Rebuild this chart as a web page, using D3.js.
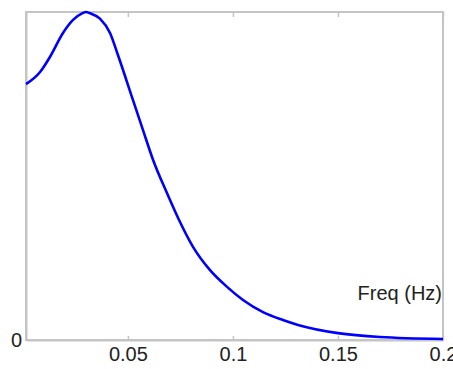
<!DOCTYPE html>
<html><head><meta charset="utf-8">
<script src="https://cdn.jsdelivr.net/npm/d3@7"></script>
<style>body{margin:0;background:#fff}svg{display:block}</style>
</head><body>
<script>
const freq = [0.0015, 0.0082, 0.0129, 0.0191, 0.0239, 0.0282, 0.0301, 0.032, 0.0367, 0.0415, 0.0453, 0.0524, 0.0572, 0.062, 0.0686, 0.0739, 0.081, 0.0891, 0.0972, 0.1048, 0.1143, 0.1238, 0.131, 0.15, 0.17, 0.2];
const power = [0.78, 0.817, 0.863, 0.936, 0.976, 0.996, 1.0, 0.996, 0.98, 0.936, 0.868, 0.732, 0.64, 0.549, 0.448, 0.372, 0.284, 0.213, 0.162, 0.122, 0.085, 0.061, 0.046, 0.021, 0.009, 0.003];
const xTicks = [0.05, 0.1, 0.15, 0.2];
const xTickLabels = ["0.05", "0.1", "0.15", "0.2"];
const yTicks = [0];
const xLabel = "Freq (Hz)";

const W = 453, H = 369;
const m = {left: 26, right: 10, top: 12, bottom: 29};
const svg = d3.select("body").append("svg").attr("width", W).attr("height", H);
const x = d3.scaleLinear().domain([0.0015, 0.2]).range([m.left, W - m.right]);
const y = d3.scaleLinear().domain([0, 1]).range([H - m.bottom, m.top]);
const gray = "#c4c4c4";
const font = "'Liberation Sans', Arial, sans-serif";

// frame
svg.append("rect").attr("x", x.range()[0]).attr("y", y(1)).attr("width", x.range()[1] - x.range()[0]).attr("height", y(0) - y(1))
  .attr("fill", "none").attr("stroke", gray).attr("stroke-width", 2);

// bottom axis
const xb = svg.append("g").attr("transform", `translate(0,${y(0)})`)
  .call(d3.axisBottom(x).tickValues(xTicks).tickFormat((d, i) => xTickLabels[i]).tickSizeInner(-4).tickSizeOuter(0).tickPadding(7));
xb.select(".domain").attr("stroke", gray).attr("stroke-width", 2);
xb.selectAll(".tick line").attr("stroke", gray).attr("stroke-width", 1.5);
xb.selectAll(".tick text").attr("font-family", font).attr("font-size", 20).attr("fill", "#222");

// top ticks
const xt = svg.append("g").attr("transform", `translate(0,${y(1)})`)
  .call(d3.axisTop(x).tickValues(xTicks).tickFormat("").tickSizeInner(-5).tickSizeOuter(0));
xt.select(".domain").remove();
xt.selectAll(".tick line").attr("stroke", gray).attr("stroke-width", 1.5);

// left axis
const yl = svg.append("g").attr("transform", `translate(${x.range()[0]},0)`)
  .call(d3.axisLeft(y).tickValues(yTicks).tickFormat(d3.format("d")).tickSize(0).tickPadding(4));
yl.select(".domain").attr("stroke", gray).attr("stroke-width", 2);
yl.selectAll(".tick text").attr("font-family", font).attr("font-size", 20).attr("fill", "#222");

// x label
svg.append("text").attr("x", x.range()[1] - 1).attr("y", 300).attr("text-anchor", "end")
  .attr("font-family", font).attr("font-size", 20).attr("fill", "#222").text(xLabel);

// curve
const data = freq.map((f, i) => ({f, p: power[i]}));
svg.append("path").datum(data)
  .attr("d", d3.line().x(d => x(d.f)).y(d => y(d.p)).curve(d3.curveMonotoneX))
  .attr("fill", "none").attr("stroke", "#0000ff").attr("stroke-width", 2.6);
</script>
</body></html>
